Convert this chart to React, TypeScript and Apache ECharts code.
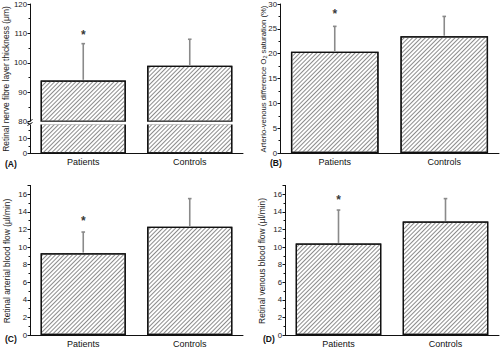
import React, { useEffect, useRef } from "react";
import * as echarts from "echarts";

const categories = ["Patients", "Controls"];
// (A) Retinal nerve fibre layer thickness (μm)
const thicknessMean = [94, 99];
const thicknessSD = [12.5, 9];
// (B) Arterio-venous difference O2 saturation (%)
const avDiffMean = [20.4, 23.5];
const avDiffSD = [5.1, 4.0];
// (C) Retinal arterial blood flow (μl/min)
const arterialMean = [9.3, 12.3];
const arterialSD = [2.4, 3.2];
// (D) Retinal venous blood flow (μl/min)
const venousMean = [10.4, 12.9];
const venousSD = [3.8, 2.6];
// significance marker (*) heights over Patients
const starY = [110.5, 28.5, 13.3, 15.7];

const FONT = 'Arial, "Liberation Sans", sans-serif';

const decal = {
  symbol: "rect",
  symbolSize: 1,
  color: "#8c8c8c",
  dashArrayX: [1, 0],
  dashArrayY: [1, 2],
  rotation: -Math.PI / 4,
};

function barSeries(gridIdx: number, data: number[]) {
  return {
    type: "bar",
    xAxisIndex: gridIdx,
    yAxisIndex: gridIdx,
    data,
    barWidth: "80%",
    clip: true,
    itemStyle: { color: "#ffffff", borderColor: "#111", borderWidth: 1.3, decal },
    z: 2,
  };
}

function errSeries(gridIdx: number, mean: number[], sd: number[]) {
  return {
    type: "custom",
    xAxisIndex: gridIdx,
    yAxisIndex: gridIdx,
    data: mean.map((m, i) => [i, m, sd[i]]),
    z: 3,
    renderItem: (params: any, api: any) => {
      const x = api.value(0);
      const m = api.value(1);
      const s = api.value(2);
      const p0 = api.coord([x, m]);
      const p1 = api.coord([x, m + s]);
      const st = { stroke: "#8a8a8a", lineWidth: 1.6 };
      return {
        type: "group",
        children: [
          { type: "line", shape: { x1: p0[0], y1: p0[1] - 0.6, x2: p1[0], y2: p1[1] }, style: st },
          { type: "line", shape: { x1: p1[0] - 1.8, y1: p1[1], x2: p1[0] + 1.8, y2: p1[1] }, style: st },
        ],
      };
    },
  };
}

function starSeries(gridIdx: number, y: number) {
  return {
    type: "scatter",
    xAxisIndex: gridIdx,
    yAxisIndex: gridIdx,
    data: [[0, y]],
    symbolSize: 1,
    itemStyle: { color: "rgba(0,0,0,0)" },
    z: 4,
    label: {
      show: true,
      position: "inside",
      formatter: "*",
      fontSize: 12,
      fontWeight: "bold",
      color: "#000",
      fontFamily: FONT,
      offset: [0, 3],
    },
  };
}

function xAxis(gridIdx: number, show: boolean) {
  return {
    type: "category",
    gridIndex: gridIdx,
    data: categories,
    show,
    axisLine: { lineStyle: { color: "#111", width: 1 } },
    axisTick: { alignWithLabel: true, length: 2, lineStyle: { color: "#111" } },
    axisLabel: { fontSize: 9, color: "#111", fontFamily: FONT, margin: 4 },
  };
}

function yAxis(gridIdx: number, min: number, max: number, interval: number, extra: any = {}) {
  return {
    type: "value",
    gridIndex: gridIdx,
    min,
    max,
    interval,
    splitLine: { show: false },
    axisLine: { show: true, lineStyle: { color: "#111", width: 1 } },
    axisTick: { show: true, length: 2.5, lineStyle: { color: "#111" } },
    minorTick: { show: true, splitNumber: 2, length: 1.5, lineStyle: { color: "#111" } },
    axisLabel: { fontSize: 7.8, color: "#222", fontFamily: FONT, margin: 3, ...(extra.axisLabel || {}) },
  };
}

function vText(x: number, y: number, text: string, fontSize: number, rich?: any) {
  return {
    type: "text",
    x,
    y,
    rotation: Math.PI / 2,
    style: {
      text,
      fontSize,
      fontFamily: FONT,
      fill: "#222",
      align: "center",
      verticalAlign: "middle",
      rich,
    },
    z: 10,
  };
}

function panelLabel(x: number, y: number, text: string) {
  return {
    type: "text",
    x,
    y,
    style: { text, fontSize: 8.5, fontWeight: "bold", fontFamily: FONT, fill: "#111", verticalAlign: "middle" },
    z: 10,
  };
}

export default function App() {
  const ref = useRef<HTMLDivElement>(null);
  useEffect(() => {
    if (!ref.current) return;
    const chart = echarts.init(ref.current, null, { renderer: "svg", width: 500, height: 348 });
    const lowerA = thicknessMean.map((v) => Math.min(v, 20));
    chart.setOption({
      animation: false,
      backgroundColor: "#ffffff",
      grid: [
        { left: 30, right: 257, top: 2, bottom: 348 - 121.5 }, // A upper
        { left: 30, right: 257, top: 123, bottom: 348 - 153.5 }, // A lower
        { left: 280, right: 1, top: 3, bottom: 348 - 153 }, // B
        { left: 30, right: 257, top: 185.4, bottom: 348 - 336.3 }, // C
        { left: 285, right: 1, top: 185.4, bottom: 348 - 336.3 }, // D
      ],
      xAxis: [xAxis(0, false), xAxis(1, true), xAxis(2, true), xAxis(3, true), xAxis(4, true)],
      yAxis: [
        yAxis(0, 80, 120, 10),
        yAxis(1, 0, 20, 10, { axisLabel: { showMaxLabel: false } }),
        yAxis(2, 0, 30, 5),
        yAxis(3, 0, 17, 2, { axisLabel: { showMaxLabel: false } }),
        yAxis(4, 0, 17, 2, { axisLabel: { showMaxLabel: false } }),
      ],
      series: [
        barSeries(0, thicknessMean),
        barSeries(1, lowerA),
        barSeries(2, avDiffMean),
        barSeries(3, arterialMean),
        barSeries(4, venousMean),
        errSeries(0, thicknessMean, thicknessSD),
        errSeries(2, avDiffMean, avDiffSD),
        errSeries(3, arterialMean, arterialSD),
        errSeries(4, venousMean, venousSD),
        starSeries(0, starY[0]),
        starSeries(2, starY[1]),
        starSeries(3, starY[2]),
        starSeries(4, starY[3]),
      ],
      graphic: [
        // axis break band
        { type: "rect", shape: { x: 29.5, y: 121.8, width: 214, height: 2.6 }, style: { fill: "#fff" }, z: 20 },
        { type: "line", shape: { x1: 27.5, y1: 122.5, x2: 32.5, y2: 119.5 }, style: { stroke: "#111", lineWidth: 1 }, z: 21 },
        { type: "line", shape: { x1: 27.5, y1: 125.5, x2: 32.5, y2: 122.5 }, style: { stroke: "#111", lineWidth: 1 }, z: 21 },
        vText(6, 79, "Retinal nerve fibre layer thickness (μm)", 8.4),
        vText(263, 79, "Arterio-venous difference O{sub|2} saturation (%)", 7.7, {
          sub: { fontSize: 5.4, fontFamily: FONT, fill: "#222", verticalAlign: "bottom", padding: [3, 0, 0, 0] },
        }),
        vText(6.5, 261, "Retinal arterial blood flow (μl/min)", 8.4),
        vText(262, 261, "Retinal venous blood flow (μl/min)", 8.4),
        panelLabel(5, 164, "(A)"),
        panelLabel(270, 163, "(B)"),
        panelLabel(5, 339, "(C)"),
        panelLabel(263, 339, "(D)"),
      ],
    });
    return () => chart.dispose();
  }, []);
  return (
    <div
      ref={ref}
      style={{ position: "fixed", left: 0, top: 0, width: 500, height: 348, background: "#fff" }}
    />
  );
}
